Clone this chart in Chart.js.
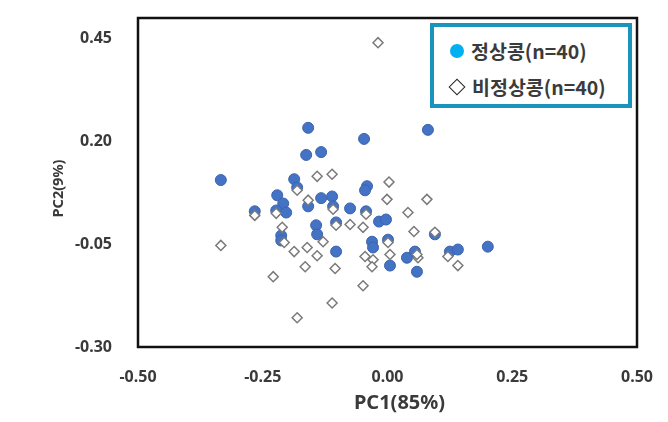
<!DOCTYPE html>
<html>
<head>
<meta charset="utf-8">
<script src="https://cdn.jsdelivr.net/npm/chart.js@4.4.0/dist/chart.umd.min.js"></script>
<style>
  html, body { margin:0; padding:0; background:#fff; }
  #wrap { position:relative; width:668px; height:422px; }
  #legend { position:absolute; left:430px; top:23px; width:194px; height:77px;
    border:4.5px solid #1a94bd; background:#fff; box-sizing:content-box;
    font-family:"Noto Sans CJK KR","Noto Sans",sans-serif; font-weight:bold; font-size:19.5px; line-height:24px; color:#3b3b3b; }
  .row { position:absolute; left:0; height:24px; display:flex; align-items:center; white-space:nowrap; }
  .dot { display:inline-block; width:14px; height:14px; border-radius:50%; background:#00b0f0; }
  .dia { display:inline-block; width:10px; height:10px; border:1.2px solid #222; background:#fff; transform:rotate(45deg); }
</style>
</head>
<body>
<div id="wrap">
  <canvas id="c" width="668" height="422"></canvas>
  <div id="legend">
    <div class="row" style="top:12px;left:16px;"><span class="dot"></span><span style="margin-left:7px;">정상콩(n=40)</span></div>
    <div class="row" style="top:48px;left:17px;"><span class="dia"></span><span style="margin-left:9px;">비정상콩(n=40)</span></div>
  </div>
</div>
<script>
const seriesNames = ["정상콩(n=40)", "비정상콩(n=40)"];
const xTitle = "PC1(85%)";
const yTitle = "PC2(9%)";
const xTicks = [-0.50, -0.25, 0.00, 0.25, 0.50];
const yTicks = [-0.30, -0.05, 0.20, 0.45];

const normalX = [-0.159,0.081,-0.047,-0.163,-0.133,-0.334,-0.187,-0.181,-0.041,-0.045,
  -0.221,-0.209,-0.223,-0.203,-0.266,-0.159,-0.133,-0.111,-0.109,-0.075,
  -0.043,-0.017,-0.003,-0.103,-0.143,-0.141,-0.213,-0.103,-0.031,-0.029,
  0.001,0.005,0.039,0.055,0.059,0.095,0.125,0.141,0.201,-0.213];
const normalY = [0.233,0.228,0.206,0.167,0.174,0.106,0.108,0.088,0.091,0.081,
  0.069,0.049,0.032,0.027,0.030,0.042,0.062,0.066,0.042,0.037,
  0.030,0.005,0.010,0.003,-0.004,-0.026,-0.029,-0.068,-0.044,-0.058,
  -0.039,-0.102,-0.083,-0.068,-0.117,-0.026,-0.068,-0.063,-0.056,-0.041];

const abnormalX = [-0.019,-0.141,-0.111,0.003,-0.001,0.079,0.041,-0.159,-0.266,-0.211,
  -0.207,-0.187,-0.161,-0.141,-0.129,-0.075,-0.049,-0.334,-0.165,-0.105,
  -0.229,-0.049,-0.111,-0.181,0.053,0.095,-0.045,-0.029,-0.031,0.005,
  0.061,0.121,0.141,-0.223,-0.109,-0.043,0.001,0.059,-0.181,-0.103];
const abnormalY = [0.440,0.115,0.120,0.101,0.059,0.059,0.027,0.057,0.020,-0.009,
  -0.046,-0.068,-0.058,-0.078,-0.044,-0.002,-0.009,-0.053,-0.105,-0.109,
  -0.129,-0.151,-0.193,-0.229,-0.019,-0.021,-0.080,-0.088,-0.105,-0.075,
  -0.083,-0.080,-0.102,0.025,0.035,0.023,-0.046,-0.075,0.081,-0.004];

const toPts = (xs, ys) => xs.map((x, i) => ({x: x, y: ys[i]}));

const frame = {
  id: 'frame',
  afterDatasetsDraw(chart) {
    const a = chart.chartArea, ctx = chart.ctx;
    ctx.save();
    ctx.strokeStyle = '#111';
    ctx.lineWidth = 2.5;
    ctx.strokeRect(a.left, a.top, a.right - a.left, a.bottom - a.top);
    ctx.restore();
  },
  afterDraw(chart) {
    const a = chart.chartArea, ctx = chart.ctx;
    ctx.save();
    ctx.fillStyle = '#3a3a3a';
    ctx.textAlign = 'center';
    ctx.textBaseline = 'middle';
    ctx.font = "bold 20px 'Noto Sans', sans-serif";
    ctx.fillText(xTitle, (a.left + a.right) / 2 + 12, a.bottom + 56);
    ctx.translate(59, (a.top + a.bottom) / 2 + 6);
    ctx.rotate(-Math.PI / 2);
    ctx.font = "bold 14.5px 'Noto Sans', sans-serif";
    ctx.fillText(yTitle, 0, 0);
    ctx.restore();
  }
};

const tickFont = {family: "'Noto Sans', sans-serif", size: 16, weight: 'bold'};

new Chart(document.getElementById('c'), {
  type: 'scatter',
  data: {
    datasets: [
      { label: seriesNames[1], data: toPts(abnormalX, abnormalY), order: 0,
        pointStyle: 'rectRot', radius: 5, backgroundColor: '#ffffff',
        borderColor: '#7a7a7a', borderWidth: 1.5 },
      { label: seriesNames[0], data: toPts(normalX, normalY), order: 1,
        pointStyle: 'circle', radius: 5.5, backgroundColor: '#4472c4',
        borderColor: '#3b64ad', borderWidth: 1 }
    ]
  },
  options: {
    responsive: false,
    animation: false,
    layout: { padding: { left: 0, right: 31, top: 18, bottom: 0 } },
    plugins: { legend: { display: false }, tooltip: { enabled: false } },
    scales: {
      x: {
        type: 'linear', min: -0.5, max: 0.5,
        afterBuildTicks: s => { s.ticks = xTicks.map(v => ({value: v})); },
        afterFit: s => { s.height = 75; s.paddingLeft = 0; s.paddingRight = 0; },
        grid: { display: false, drawTicks: false },
        border: { display: false },
        ticks: { padding: 21, color: '#3a3a3a', font: tickFont, maxRotation: 0,
          callback: v => Number(v).toFixed(2) },
        title: { display: false }
      },
      y: {
        type: 'linear', min: -0.30, max: 0.50,
        afterBuildTicks: s => { s.ticks = yTicks.map(v => ({value: v})); },
        afterFit: s => { s.width = 138; s.paddingTop = 0; s.paddingBottom = 0; },
        grid: { display: false, drawTicks: false },
        border: { display: false },
        ticks: { padding: 26, color: '#3a3a3a', font: tickFont,
          callback: v => Number(v).toFixed(2) },
        title: { display: false }
      }
    }
  },
  plugins: [frame]
});
</script>
</body>
</html>
